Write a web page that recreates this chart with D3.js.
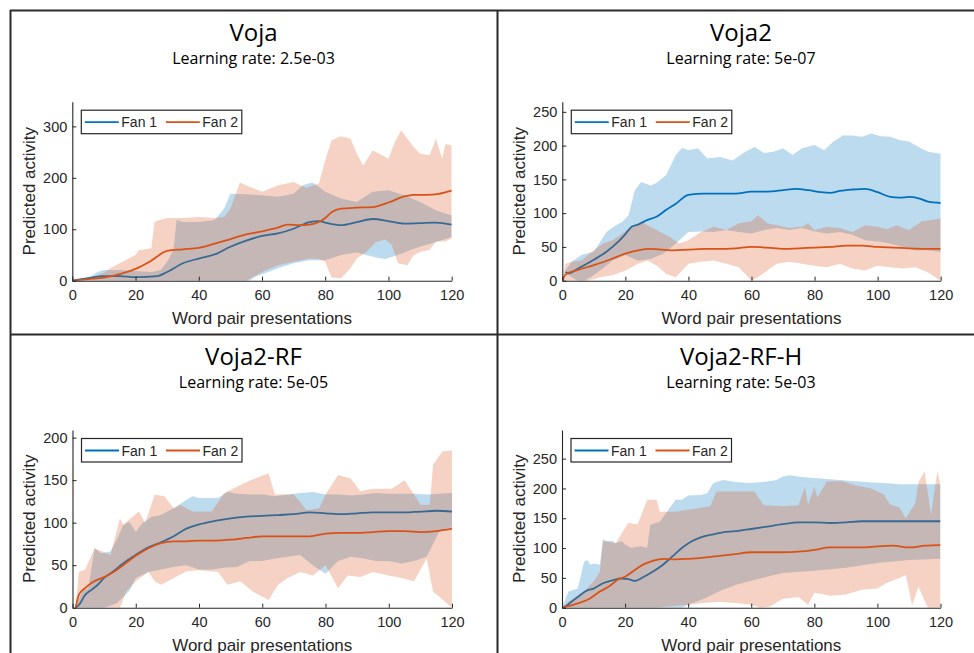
<!DOCTYPE html>
<html><head><meta charset="utf-8">
<script src="https://cdn.jsdelivr.net/npm/d3@7"></script>
<style>
html,body{margin:0;padding:0;background:#fff;}
svg{display:block;}
</style></head>
<body>
<svg id="chart" width="974" height="653"></svg>
<script>
// ---------- data ----------
const xTicks = [0, 20, 40, 60, 80, 100, 120];
const seriesNames = ["Fan 1", "Fan 2"];
const titles = ["Voja", "Voja2", "Voja2-RF", "Voja2-RF-H"];
const rates = ["Learning rate: 2.5e-03", "Learning rate: 5e-07", "Learning rate: 5e-05", "Learning rate: 5e-03"];

// Panel 1: Voja
const vojaYTicks = [0, 100, 200, 300];
const vojaFan1Mean = [[0,0],[5,5],[10,9],[15,9],[20,7],[27,9],[30,17],[35,34],[40,43],[45,51],[50,66],[55,78],[60,87],[65,92],[70,101],[75,114],[78,116],[80,113],[85,108],[90,114],[95,120],[100,116],[105,111],[110,112],[115,113],[120,109]];
const vojaFan2Mean = [[0,0],[5,3],[10,6],[15,13],[20,23],[25,39],[30,58],[35,61],[40,64],[45,72],[50,81],[55,90],[60,96],[65,103],[68,109],[72,108],[75,109],[78,114],[80,122],[82,133],[85,140],[90,142],[95,143],[100,152],[105,164],[108,167],[112,167],[116,169],[120,175]];
const vojaFan1Up = [[0,0],[5,5],[8,17],[10,21],[15,21],[20,19],[25,17],[28,21],[30,37],[32,60],[33,118],[35,114],[40,114],[45,118],[48,140],[50,169],[55,168],[60,166],[65,163],[70,169],[73,186],[76,191],[78,182],[80,173],[85,160],[90,153],[95,173],[100,176],[105,166],[110,153],[115,137],[120,127]];
const vojaFan1Lo = [[0,0],[56,0],[58,8],[62,17],[65,24],[70,34],[75,40],[80,40],[85,50],[90,55],[93,50],[96,45],[99,42],[102,48],[105,55],[108,62],[111,68],[115,75],[120,85]];
const vojaFan2Up = [[0,0],[5,5],[10,15],[12,24],[15,34],[20,50],[21,59],[25,63],[26,114],[27,117],[30,122],[35,122],[40,124],[45,122],[48,124],[50,140],[53,191],[55,185],[60,173],[65,185],[70,192],[74,180],[78,189],[80,234],[82,273],[85,281],[88,276],[90,247],[92,224],[95,253],[98,244],[100,237],[102,269],[104,292],[106,276],[108,260],[110,247],[113,244],[115,276],[117,237],[118,266],[120,263]];
const vojaFan2Lo = [[0,0],[55,0],[60,17],[65,30],[70,37],[75,43],[78,42],[80,37],[82,6],[85,5],[88,24],[90,43],[93,56],[96,75],[99,80],[101,70],[103,34],[106,30],[108,50],[110,56],[113,60],[115,76],[118,76],[120,82]];

// Panel 2: Voja2
const voja2YTicks = [0, 50, 100, 150, 200, 250];
const voja2Fan1Mean = [[1,13],[2,11],[5,18],[10,31],[14,43],[18,59],[20,69],[22,80],[24,83],[27,90],[30,95],[33,105],[36,114],[40,127],[45,129],[50,129],[55,129],[60,132],[65,132],[70,134],[74,136],[78,134],[82,131],[85,130],[88,133],[92,135],[96,136],[100,131],[104,124],[107,123],[110,124],[113,122],[116,117],[120,115]];
const voja2Fan2Mean = [[0,0],[1,9],[5,16],[10,23],[15,31],[20,40],[24,45],[28,47],[35,45],[40,46],[45,47],[50,47],[55,48],[60,50],[65,49],[70,47],[75,48],[80,49],[85,50],[90,52],[95,52],[100,50],[105,49],[110,48],[115,47],[120,47]];
const voja2Fan1Up = [[1,15],[3,28],[6,38],[10,43],[14,72],[17,82],[19,87],[21,97],[23,134],[25,146],[28,141],[30,145],[33,157],[36,186],[38,197],[40,193],[43,196],[46,181],[50,183],[54,178],[58,191],[61,198],[64,189],[67,191],[70,196],[73,186],[76,196],[80,201],[83,193],[86,206],[89,215],[92,215],[95,213],[98,218],[101,214],[104,213],[107,208],[110,206],[113,198],[116,191],[120,188]];
const voja2Fan1Lo = [[1,12],[3,5],[5,0],[7,0],[9,5],[12,15],[16,30],[20,38],[24,30],[28,32],[32,40],[36,55],[40,72],[44,73],[48,72],[52,75],[56,72],[60,70],[64,75],[68,78],[72,75],[76,78],[80,73],[84,70],[88,72],[92,68],[96,60],[100,58],[104,55],[108,50],[112,45],[116,45],[120,42]];
const voja2Fan2Up = [[0,0],[1,25],[3,28],[6,30],[10,45],[13,55],[16,60],[19,70],[22,80],[25,87],[28,80],[31,72],[34,65],[37,55],[40,60],[44,72],[48,80],[52,75],[56,85],[60,88],[62,97],[65,85],[68,82],[72,78],[76,80],[78,85],[80,75],[84,80],[88,78],[92,72],[96,82],[100,80],[103,76],[106,82],[110,75],[114,88],[117,90],[120,92]];
const voja2Fan2Lo = [[0,0],[8,0],[12,5],[16,8],[20,15],[24,25],[27,30],[30,22],[33,10],[36,5],[40,25],[44,28],[48,30],[52,25],[56,20],[58,10],[60,0],[62,5],[65,15],[68,25],[72,28],[76,25],[80,22],[84,20],[88,25],[92,18],[96,15],[100,22],[104,20],[108,18],[112,20],[116,12],[120,0]];

// Panel 3: Voja2-RF
const rfYTicks = [0, 50, 100, 150, 200];
const rfFan1Mean = [[1,0],[2,3],[4,15],[6,21],[8,27],[10,35],[13,43],[16,52],[20,62],[24,71],[28,77],[32,84],[36,93],[40,98],[45,102],[50,105],[55,107],[60,108],[65,109],[70,110],[75,112],[80,111],[85,110],[90,111],[95,112],[100,112],[105,112],[110,113],[115,114],[120,113]];
const rfFan2Mean = [[1,0],[2,15],[4,23],[6,29],[8,33],[10,36],[13,42],[16,50],[20,61],[24,70],[28,76],[32,78],[36,78],[40,79],[45,79],[50,80],[55,82],[60,84],[65,84],[70,84],[75,84],[80,87],[85,88],[90,88],[95,89],[100,90],[105,90],[110,89],[115,90],[120,93]];
const rfFan1Up = [[1,0],[3,19],[5,23],[7,70],[9,64],[12,66],[14,80],[16,97],[18,101],[20,89],[22,99],[25,107],[28,109],[30,113],[33,119],[36,127],[38,131],[40,129],[46,129],[49,136],[52,134],[56,133],[60,133],[64,131],[68,133],[72,135],[76,136],[80,133],[84,133],[88,132],[92,133],[96,135],[100,134],[104,134],[108,134],[112,133],[116,134],[120,135]];
const rfFan1Lo = [[1,0],[10,0],[14,5],[18,20],[20,35],[24,42],[28,45],[32,48],[36,50],[40,45],[44,45],[48,47],[52,48],[56,55],[60,55],[64,58],[68,60],[72,62],[76,50],[80,40],[84,55],[88,60],[92,58],[96,55],[100,55],[104,52],[108,55],[112,60],[116,90],[120,95]];
const rfFan2Up = [[1,0],[2,42],[4,45],[7,70],[12,62],[15,105],[16,98],[21,113],[23,100],[26,133],[29,131],[32,117],[34,121],[38,113],[44,113],[48,135],[54,146],[59,154],[62,158],[64,133],[70,133],[74,115],[78,117],[80,133],[84,156],[88,152],[91,137],[95,140],[101,140],[105,150],[108,133],[110,121],[113,121],[114,168],[117,184],[120,185]];
const rfFan2Lo = [[1,0],[15,0],[17,19],[20,31],[24,42],[26,31],[28,27],[32,35],[36,43],[40,44],[46,42],[49,27],[53,31],[57,19],[62,9],[65,27],[68,35],[72,42],[76,38],[80,50],[84,23],[87,38],[91,36],[95,42],[100,38],[104,35],[108,31],[112,58],[114,19],[120,0]];

// Panel 4: Voja2-RF-H
const rfhYTicks = [0, 50, 100, 150, 200, 250];
const rfhFan1Mean = [[0,0],[1,2],[3,10],[5,18],[8,29],[10,32],[13,41],[16,46],[19,49],[21,48],[23,45],[26,52],[29,61],[32,72],[35,86],[38,100],[41,111],[44,118],[48,123],[52,127],[56,129],[60,132],[65,136],[70,140],[75,143],[80,143],[85,142],[90,143],[95,145],[100,145],[110,145],[120,145]];
const rfhFan2Mean = [[0,0],[3,4],[6,9],[9,16],[12,27],[15,36],[18,48],[20,52],[23,63],[26,73],[29,79],[32,82],[36,81],[40,82],[45,84],[50,87],[55,90],[60,93],[65,93],[70,93],[75,94],[80,97],[85,101],[90,101],[95,101],[100,103],[105,104],[110,101],[115,104],[120,105]];
const rfhFan1Up = [[0,0],[2,27],[5,32],[7,77],[8,80],[9,72],[10,74],[12,72],[13,115],[14,112],[16,112],[17,108],[19,112],[20,106],[22,100],[25,103],[27,100],[28,139],[31,144],[33,159],[36,181],[38,181],[40,188],[44,189],[46,192],[48,209],[51,214],[55,211],[59,209],[64,211],[68,214],[70,220],[72,222],[76,219],[81,217],[86,215],[91,213],[96,211],[102,209],[107,207],[120,207]];
const rfhFan1Lo = [[0,0],[38,0],[40,5],[45,15],[50,28],[55,38],[60,45],[65,52],[70,58],[80,62],[90,67],[100,75],[110,80],[120,82]];
const rfhFan2Up = [[0,0],[2,10],[7,27],[10,44],[12,60],[13,112],[17,108],[21,142],[24,140],[27,181],[30,181],[31,161],[36,161],[41,165],[47,170],[49,195],[55,195],[61,195],[64,172],[70,170],[75,172],[77,203],[78,172],[80,203],[81,185],[84,212],[89,212],[93,205],[98,200],[102,190],[104,173],[107,168],[109,150],[112,175],[113,210],[115,229],[117,155],[119,229],[120,206]];
const rfhFan2Lo = [[0,0],[30,0],[35,3],[40,5],[45,8],[50,10],[55,8],[60,5],[63,0],[66,2],[70,15],[75,18],[78,5],[80,25],[85,20],[90,22],[95,30],[100,32],[103,42],[107,50],[109,55],[111,4],[113,35],[116,0],[120,0]];

// ---------- layout / style ----------
const colors = ["#0072BD", "#D95319"];
const axisColor = "#262626";
const tickFont = "'Liberation Sans', Arial, Helvetica, sans-serif";
const titleFont = "'Open Sans', 'Noto Sans', sans-serif";

const panels = [
  {title: titles[0], rate: rates[0], cx: 253.5, top: 10,  l: 72.3,  r: 451.7, t: 101.7, b: 280.7, yMax: 348, yTicks: vojaYTicks,
   s: [[vojaFan1Mean, vojaFan1Up, vojaFan1Lo], [vojaFan2Mean, vojaFan2Up, vojaFan2Lo]]},
  {title: titles[1], rate: rates[1], cx: 741,   top: 10,  l: 562.3, r: 940.7, t: 101.7, b: 280.7, yMax: 265, yTicks: voja2YTicks,
   s: [[voja2Fan1Mean, voja2Fan1Up, voja2Fan1Lo], [voja2Fan2Mean, voja2Fan2Up, voja2Fan2Lo]]},
  {title: titles[2], rate: rates[2], cx: 253.5, top: 334, l: 72.5,  r: 452,   t: 430,   b: 607.7, yMax: 209, yTicks: rfYTicks,
   s: [[rfFan1Mean, rfFan1Up, rfFan1Lo], [rfFan2Mean, rfFan2Up, rfFan2Lo]]},
  {title: titles[3], rate: rates[3], cx: 741,   top: 334, l: 562,   r: 940.5, t: 430,   b: 607.7, yMax: 298, yTicks: rfhYTicks,
   s: [[rfhFan1Mean, rfhFan1Up, rfhFan1Lo], [rfhFan2Mean, rfhFan2Up, rfhFan2Lo]]}
];

const svg = d3.select("#chart");
svg.append("rect").attr("width", 974).attr("height", 653).attr("fill", "#fff");

panels.forEach((p, i) => {
  const g = svg.append("g");
  const x = d3.scaleLinear().domain([0, 120]).range([p.l, p.r]);
  const y = d3.scaleLinear().domain([0, p.yMax]).range([p.b, p.t]);

  const clipId = "clip" + i;
  svg.append("clipPath").attr("id", clipId).append("rect")
    .attr("x", p.l).attr("y", p.t).attr("width", p.r - p.l).attr("height", p.b - p.t);

  const data = g.append("g").attr("clip-path", `url(#${clipId})`);
  const line = d3.line().x(d => x(d[0])).y(d => y(d[1]));
  const smooth = d3.line().x(d => x(d[0])).y(d => y(d[1])).curve(d3.curveMonotoneX);

  p.s.forEach((ser, k) => {
    const [mean, up, lo] = ser;
    const poly = up.concat(lo.slice().reverse());
    data.append("path").attr("d", line(poly) + "Z")
      .attr("fill", colors[k]).attr("fill-opacity", 0.26).attr("stroke", "none");
    data.append("path").attr("d", smooth(mean))
      .attr("fill", "none").attr("stroke", colors[k]).attr("stroke-width", 1.8)
      .attr("stroke-linejoin", "round");
  });

  // axes
  const ax = g.append("g").attr("transform", `translate(0,${p.b})`)
    .call(d3.axisBottom(x).tickValues(xTicks).tickSizeInner(-4).tickSizeOuter(0).tickPadding(9));
  const ay = g.append("g").attr("transform", `translate(${p.l},0)`)
    .call(d3.axisLeft(y).tickValues(p.yTicks).tickSizeInner(-4).tickSizeOuter(0).tickPadding(5));
  [ax, ay].forEach(a => {
    a.selectAll("path").attr("stroke", axisColor).attr("stroke-width", 1.1);
    a.selectAll("line").attr("stroke", axisColor).attr("stroke-width", 1);
    a.selectAll("text").attr("fill", axisColor).style("font-family", tickFont).style("font-size", "14.5px");
  });

  // axis labels
  g.append("text").attr("x", (p.l + p.r) / 2).attr("y", p.b + 43.5)
    .attr("text-anchor", "middle").attr("fill", axisColor)
    .style("font-family", tickFont).style("font-size", "17px").text("Word pair presentations");
  g.append("text").attr("transform", `translate(${p.l - 37.5},${(p.t + p.b) / 2}) rotate(-90)`)
    .attr("text-anchor", "middle").attr("fill", axisColor)
    .style("font-family", tickFont).style("font-size", "17px").text("Predicted activity");

  // titles
  g.append("text").attr("x", p.cx).attr("y", p.top + 31).attr("text-anchor", "middle")
    .attr("fill", "#000").style("font-family", titleFont).style("font-size", "24px").text(p.title);
  g.append("text").attr("x", p.cx).attr("y", p.top + 53.5).attr("text-anchor", "middle")
    .attr("fill", "#000").style("font-family", titleFont).style("font-size", "16px").text(p.rate);

  // legend
  const lx = p.l + 9, ly = p.t + 8.5;
  const lg = g.append("g").attr("transform", `translate(${lx},${ly})`);
  lg.append("rect").attr("width", 160.5).attr("height", 23.5)
    .attr("fill", "#fff").attr("stroke", axisColor).attr("stroke-width", 1.2);
  seriesNames.forEach((nm, k) => {
    const ox = k * 81;
    lg.append("line").attr("x1", ox + 3.5).attr("x2", ox + 37.5).attr("y1", 12).attr("y2", 12)
      .attr("stroke", colors[k]).attr("stroke-width", 1.8);
    lg.append("text").attr("x", ox + 40).attr("y", 17).attr("fill", axisColor)
      .style("font-family", tickFont).style("font-size", "14px").text(nm);
  });
});

// panel frame lines
const frame = svg.append("g").attr("stroke", "#2a2a2a").attr("stroke-width", 2).attr("fill", "none");
frame.append("line").attr("x1", 10).attr("x2", 974).attr("y1", 10.5).attr("y2", 10.5);
frame.append("line").attr("x1", 10).attr("x2", 974).attr("y1", 334.5).attr("y2", 334.5);
frame.append("line").attr("x1", 10.5).attr("x2", 10.5).attr("y1", 10).attr("y2", 653);
frame.append("line").attr("x1", 497.5).attr("x2", 497.5).attr("y1", 10).attr("y2", 653);
</script>
</body></html>
